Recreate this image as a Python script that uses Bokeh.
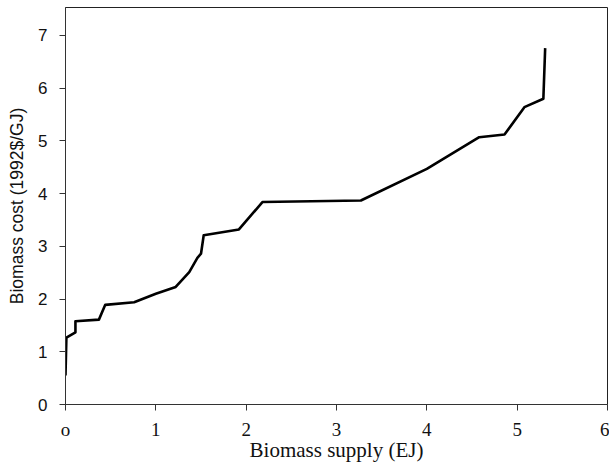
from bokeh.plotting import figure
from bokeh.models import Range1d, FixedTicker
from bokeh.embed import file_html
from bokeh.resources import INLINE

# Data
supply = [0.0, 0.01, 0.11, 0.11, 0.37, 0.44, 0.76, 1.00, 1.22, 1.37, 1.46, 1.50,
          1.53, 1.92, 2.18, 3.27, 4.00, 4.58, 4.86, 5.08, 5.29, 5.31]
cost = [0.55, 1.27, 1.37, 1.58, 1.61, 1.89, 1.94, 2.10, 2.23, 2.51, 2.78, 2.86,
        3.21, 3.32, 3.84, 3.87, 4.47, 5.07, 5.12, 5.64, 5.80, 6.76]
x_ticks = [0, 1, 2, 3, 4, 5, 6]
x_tick_labels = {0: "o", 1: "1", 2: "2", 3: "3", 4: "4", 5: "5", 6: "6"}
y_ticks = [0, 1, 2, 3, 4, 5, 6, 7]

SANS = "'Liberation Sans', Arial, Helvetica, sans-serif"
SERIF = "'Liberation Serif', 'Times New Roman', serif"

p = figure(frame_width=542, frame_height=397, output_backend="svg", toolbar_location=None,
           x_range=Range1d(0, 6), y_range=Range1d(0, 7.53),
           min_border_left=65, min_border_right=2, min_border_top=7, min_border_bottom=60)
p.line(supply, cost, line_color="black", line_width=2.6, line_join="round")

p.xgrid.visible = False
p.ygrid.visible = False
p.outline_line_color = "#222222"
p.outline_line_width = 1
p.background_fill_color = "white"
p.border_fill_color = "white"

xa = p.xaxis[0]
xa.ticker = FixedTicker(ticks=x_ticks)
xa.major_label_overrides = x_tick_labels
xa.axis_label = "Biomass supply (EJ)"
xa.axis_label_text_font = SERIF
xa.axis_label_text_font_style = "normal"
xa.axis_label_text_font_size = "21px"
xa.axis_label_text_color = "#111111"
xa.axis_label_standoff = -5
xa.major_label_text_font = SERIF
xa.major_label_text_font_size = "19px"
xa.major_label_text_color = "#111111"
xa.major_label_standoff = 8
xa.major_tick_out = 6
xa.major_tick_in = 0
xa.minor_tick_out = 0
xa.minor_tick_in = 0
xa.axis_line_color = "#333333"
xa.major_tick_line_color = "#333333"

ya = p.yaxis[0]
ya.ticker = FixedTicker(ticks=y_ticks)
ya.axis_label = "Biomass cost (1992$/GJ)"
ya.axis_label_text_font = SANS
ya.axis_label_text_font_style = "normal"
ya.axis_label_text_font_size = "17.5px"
ya.axis_label_text_color = "#111111"
ya.axis_label_standoff = 8
ya.major_label_text_font = SANS
ya.major_label_text_font_size = "17px"
ya.major_label_text_color = "#111111"
ya.major_label_standoff = 12
ya.major_tick_out = 6
ya.major_tick_in = 0
ya.minor_tick_out = 0
ya.minor_tick_in = 0
ya.axis_line_color = "#333333"
ya.major_tick_line_color = "#333333"

open("out.html", "w").write(file_html(p, INLINE))
